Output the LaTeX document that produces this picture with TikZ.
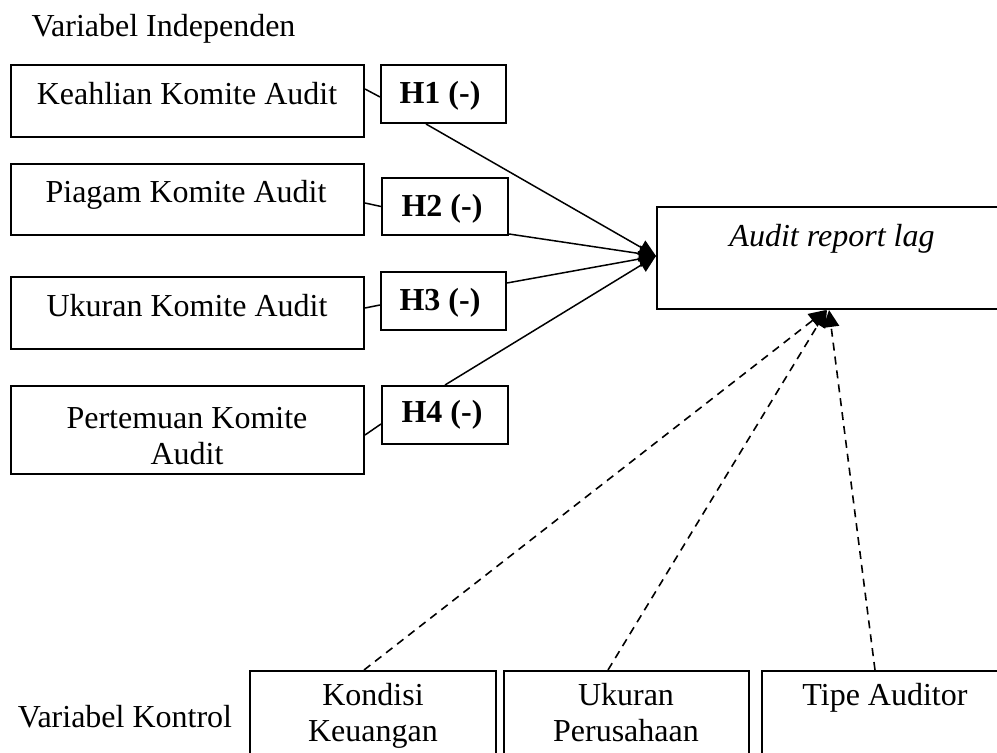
\documentclass[tikz,border=0pt]{standalone}
\usepackage{fontspec}
\setmainfont{Liberation Serif}
\usetikzlibrary{arrows.meta}
\begin{document}
\begin{tikzpicture}[x=0.5pt,y=-0.5pt,
  box/.style={draw, line width=1pt, inner sep=0pt, anchor=north west},
  txt/.style={inner sep=0pt, font=\fontsize{16}{18}\selectfont},
  link/.style={line width=0.75pt},
  arr/.style={line width=0.75pt, -{Triangle[length=8.5pt,width=8pt]}},
  darr/.style={line width=0.8pt, dash pattern=on 4pt off 3pt, -{Triangle[length=8.5pt,width=8pt]}}
]
\useasboundingbox (0,0) rectangle (997,753);
\clip (0,0) rectangle (997,753);

% boxes
\node[box, minimum width=176.5pt, minimum height=36pt]   (kea) at (10,64) {};
\node[box, minimum width=62.5pt,  minimum height=29pt]   (h1)  at (380,64) {};
\node[box, minimum width=176.5pt, minimum height=35.5pt] (pia) at (10,163) {};
\node[box, minimum width=63pt,    minimum height=28.5pt] (h2)  at (381,177) {};
\node[box, minimum width=176.5pt, minimum height=36pt]   (uku) at (10,276) {};
\node[box, minimum width=62.5pt,  minimum height=29pt]   (h3)  at (380,271) {};
\node[box, minimum width=176.5pt, minimum height=44pt]   (per) at (10,385) {};
\node[box, minimum width=63pt,    minimum height=29pt]   (h4)  at (381,385) {};
\node[box, minimum width=177pt,   minimum height=51pt]   (arl) at (656,206) {};
\node[box, minimum width=123pt,   minimum height=60pt]   (kon) at (249,670) {};
\node[box, minimum width=122.5pt, minimum height=60pt]   (ukp) at (503,670) {};
\node[box, minimum width=124.5pt, minimum height=60pt]   (tip) at (761,670) {};

% texts
\node[txt, anchor=base] (vit) at (163.5,37) {Variabel Independen};
\node[txt, anchor=base] (keat) at (187,105) {Keahlian Komite Audit};
\node[txt, anchor=base] (piat) at (186,203) {Piagam Komite Audit};
\node[txt, anchor=base] (ukut) at (187,317) {Ukuran Komite Audit};
\node[txt, anchor=north, align=center] (pert) at (187,407) {Pertemuan Komite\\Audit};
\node[txt, anchor=base] (h1t) at (440,104) {\textbf{H1 (-)}};
\node[txt, anchor=base] (h2t) at (442,217) {\textbf{H2 (-)}};
\node[txt, anchor=base] (h3t) at (440,311) {\textbf{H3 (-)}};
\node[txt, anchor=base] (h4t) at (442,423) {\textbf{H4 (-)}};
\node[txt, anchor=base] (arlt) at (832,247) {\itshape Audit report lag};
\node[txt, anchor=base] (vkt) at (125,727) {Variabel Kontrol};
\node[txt, anchor=north, align=center] (kont) at (373,683) {Kondisi\\Keuangan};
\node[txt, anchor=north, align=center] (ukpt) at (626,683) {Ukuran\\Perusahaan};
\node[txt, anchor=base] (tipt) at (885,705) {Tipe Auditor};

% short links
\draw[link] ([yshift=6pt]kea.east) -- ([yshift=-1.5pt]h1.west);
\draw[link] ([yshift=-1.75pt]pia.east) -- (h2.west);
\draw[link] ([yshift=2.5pt]uku.east) -- ([yshift=-2pt]h3.west);
\draw[link] ([yshift=-2.5pt]per.east) -- ([yshift=-4.5pt]h4.west);

% arrows to Audit report lag
\draw[arr] ([xshift=-8.75pt]h1.south) -- ([yshift=1pt]arl.west);
\draw[arr] ([yshift=1pt]h2.south east) -- ([yshift=1pt]arl.west);
\draw[arr] ([yshift=-6pt]h3.north east) -- ([yshift=1pt]arl.west);
\draw[arr] (h4.north) -- ([yshift=1pt]arl.west);

% dashed control arrows
\draw[darr] ([xshift=-4.5pt]kon.north) -- ([xshift=-4pt]arl.south);
\draw[darr] ([xshift=-9.25pt]ukp.north) -- ([xshift=-3.5pt]arl.south);
\draw[darr] ([xshift=-5.75pt]tip.north) -- ([xshift=-2.5pt]arl.south);
\end{tikzpicture}
\end{document}
